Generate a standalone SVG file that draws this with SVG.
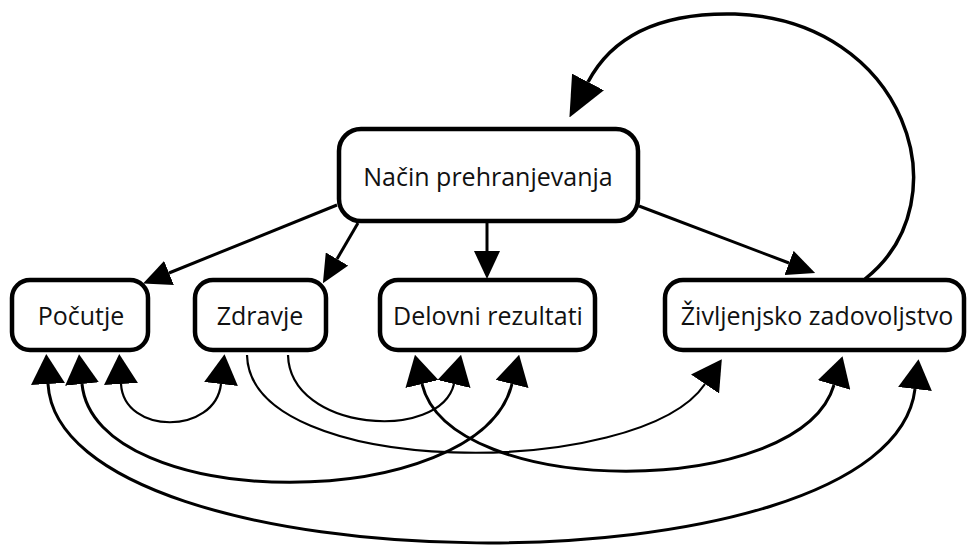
<svg xmlns="http://www.w3.org/2000/svg" width="968" height="547" viewBox="0 0 968 547">
<style>
  .node rect { fill: #ffffff; stroke: #000000; stroke-width: 4.5; }
  .node text { font-family: "Open Sans", "Noto Sans", "DejaVu Sans", sans-serif; font-size: 25px; fill: #111111; text-anchor: middle; }
  .edge { fill: none; stroke: #000000; stroke-width: 3; }
  .thin { stroke-width: 2.2; }
</style>
<defs>
  <marker id="arrS" markerUnits="userSpaceOnUse" markerWidth="28" markerHeight="26" refX="0" refY="13" orient="auto" viewBox="0 0 28 26">
    <path d="M0,0 L28,13 L0,26 Z" fill="#000"/>
  </marker>
  <marker id="arrB" markerUnits="userSpaceOnUse" markerWidth="30" markerHeight="34" refX="0" refY="17" orient="auto-start-reverse" viewBox="0 0 30 34">
    <path d="M0,0 L30,17 L0,34 Z" fill="#000"/>
  </marker>
  <marker id="arrL" markerUnits="userSpaceOnUse" markerWidth="40" markerHeight="36" refX="0" refY="18" orient="auto" viewBox="0 0 40 36">
    <path d="M0,0 L40,18 L0,36 Z" fill="#000"/>
  </marker>
</defs>

<g id="connectors">
  <!-- Način -> others -->
  <path class="edge" d="M337,205 L169,273" marker-end="url(#arrS)"/>
  <path class="edge" d="M358,223 L337,259" marker-end="url(#arrS)"/>
  <path class="edge" d="M487,223 L487,251" marker-end="url(#arrS)"/>
  <path class="edge" d="M639,206 L789,263" marker-end="url(#arrS)"/>
  <!-- Življenjsko -> Način loop -->
  <path class="edge" style="stroke-width:3.5" d="M865,279 C965,200 905,20 735,14 C655,12 610,40 588,82" marker-end="url(#arrL)"/>
  <!-- Zdravje <-> Počutje -->
  <path class="edge thin" d="M121,384 C124,435 215,435 221,384" marker-start="url(#arrB)" marker-end="url(#arrB)"/>
  <!-- Zdravje -> Delovni -->
  <path class="edge thin" d="M288,355 C290,432 440,442 454,384" marker-end="url(#arrB)"/>
  <!-- Zdravje -> Življenjsko -->
  <path class="edge thin" d="M247,355 C250,480 640,480 705,384" marker-end="url(#arrB)"/>
  <!-- Delovni <-> Življenjsko -->
  <path class="edge" d="M422,384 C450,500 800,500 834,385" marker-start="url(#arrB)" marker-end="url(#arrB)"/>
  <!-- Počutje <-> Delovni -->
  <path class="edge" d="M82,384 C95,515 480,515 512,384" marker-start="url(#arrB)" marker-end="url(#arrB)"/>
  <!-- Počutje <-> Življenjsko -->
  <path class="edge" d="M48,384 C60,590 890,600 915,389" marker-start="url(#arrB)" marker-end="url(#arrB)"/>
</g>

<g id="nacin" class="node">
  <rect x="339" y="129" width="299" height="92" rx="22"/>
  <text x="488" y="186">Način prehranjevanja</text>
</g>
<g id="pocutje" class="node">
  <rect x="12" y="280" width="136" height="70" rx="18"/>
  <text x="81" y="325">Počutje</text>
</g>
<g id="zdravje" class="node">
  <rect x="195" y="280" width="131" height="70" rx="18"/>
  <text x="260" y="325">Zdravje</text>
</g>
<g id="delovni" class="node">
  <rect x="380" y="280" width="215" height="70" rx="18"/>
  <text x="488" y="325">Delovni rezultati</text>
</g>
<g id="zivljenjsko" class="node">
  <rect x="665" y="280" width="299" height="70" rx="18"/>
  <text x="817" y="325">Življenjsko zadovoljstvo</text>
</g>
</svg>
